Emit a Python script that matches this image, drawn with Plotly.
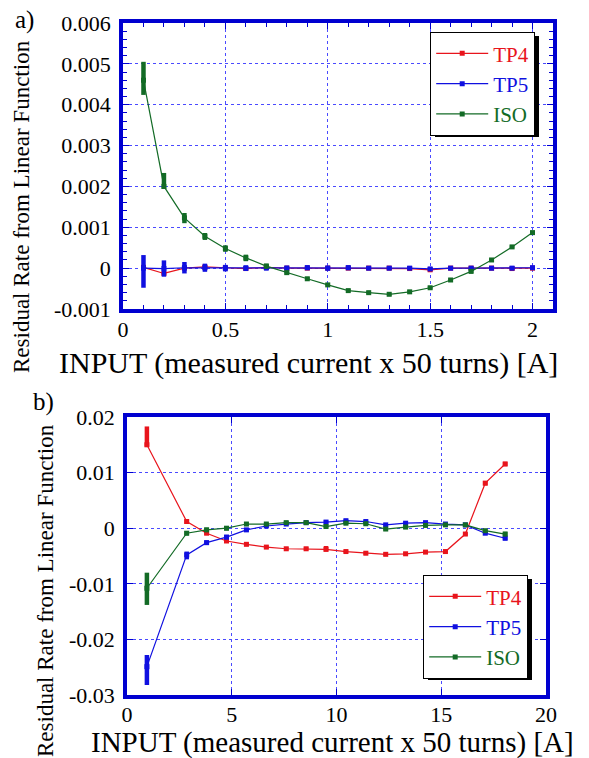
import plotly.graph_objects as go

W, H = 589, 758

# ---------------- data: panel a) ----------------
x_a = [0.1, 0.2, 0.3, 0.4, 0.5, 0.6, 0.7, 0.8, 0.9, 1.0,
       1.1, 1.2, 1.3, 1.4, 1.5, 1.6, 1.7, 1.8, 1.9, 2.0]
tp4_a = [0.00002, -0.00013, 0.00000, 0.00003, 0.00001, -0.00001, 0.00002, 0.00000, 0.00000, 0.00000,
         0.00000, 0.00000, 0.00000, -0.00001, -0.00004, 0.00000, 0.00000, 0.00000, -0.00001, 0.00000]
tp4_a_up = [0.00004] * 20
tp4_a_dn = [0.00004] * 20
tp5_a = [0.00000, -0.00001, 0.00001, 0.00001, 0.00000, 0.00000, 0.00001, 0.00000, 0.00001, 0.00000,
         0.00001, 0.00000, 0.00000, 0.00000, -0.00002, 0.00000, 0.00000, 0.00000, 0.00000, 0.00001]
tp5_a_up = [0.00032, 0.00020, 0.00014, 0.00010, 0.00008, 0.00007, 0.00007, 0.00006, 0.00006, 0.00006,
            0.00006, 0.00005, 0.00005, 0.00005, 0.00005, 0.00005, 0.00005, 0.00005, 0.00005, 0.00005]
tp5_a_dn = [0.00048, 0.00020, 0.00014, 0.00010, 0.00008, 0.00007, 0.00007, 0.00006, 0.00006, 0.00006,
            0.00006, 0.00005, 0.00005, 0.00005, 0.00005, 0.00005, 0.00005, 0.00005, 0.00005, 0.00005]
iso_a = [0.00460, 0.00200, 0.00123, 0.00078, 0.00048, 0.00025, 0.00005, -0.00011, -0.00026, -0.00041,
         -0.00055, -0.00060, -0.00064, -0.00058, -0.00048, -0.00029, -0.00008, 0.00020, 0.00052, 0.00087]
iso_a_up = [0.00045, 0.00033, 0.00012, 0.00008, 0.00008, 0.00008, 0.00006, 0.00005, 0.00004, 0.00004,
            0.00004, 0.00004, 0.00004, 0.00004, 0.00004, 0.00004, 0.00004, 0.00004, 0.00004, 0.00004]
iso_a_dn = [0.00036, 0.00006, 0.00013, 0.00009, 0.00008, 0.00008, 0.00006, 0.00005, 0.00004, 0.00004,
            0.00004, 0.00004, 0.00004, 0.00004, 0.00004, 0.00004, 0.00004, 0.00004, 0.00004, 0.00004]

# ---------------- data: panel b) ----------------
x_b = [0.95, 2.85, 3.8, 4.75, 5.7, 6.65, 7.6, 8.55, 9.5, 10.45,
       11.4, 12.35, 13.3, 14.25, 15.2, 16.15, 17.1, 18.05]
tp4_b = [0.0150, 0.0012, -0.0009, -0.0023, -0.0029, -0.0034, -0.0037, -0.0037, -0.0038, -0.0042,
         -0.0045, -0.0047, -0.0046, -0.0043, -0.0042, -0.00105, 0.0081, 0.01155]
tp4_b_up = [0.0033, 0.0004, 0.0003, 0.0003, 0.0003, 0.0003, 0.0003, 0.0003, 0.0006, 0.0003,
            0.0003, 0.0003, 0.0003, 0.0003, 0.0003, 0.0003, 0.0004, 0.0004]
tp4_b_dn = [0.0003, 0.0004, 0.0003, 0.0003, 0.0003, 0.0003, 0.0003, 0.0003, 0.0004, 0.0003,
            0.0003, 0.0003, 0.0003, 0.0003, 0.0003, 0.0003, 0.0004, 0.0004]
tp5_b = [-0.0249, -0.0048, -0.0026, -0.0016, -0.0003, 0.0004, 0.00075, 0.0010, 0.0011, 0.00135,
         0.0012, 0.0006, 0.0009, 0.0010, 0.00075, 0.0006, -0.0009, -0.0018]
tp5_b_up = [0.0021, 0.0006, 0.0004, 0.0004, 0.0003, 0.0003, 0.0003, 0.0003, 0.0003, 0.0003,
            0.0003, 0.0003, 0.0003, 0.0003, 0.0003, 0.0003, 0.0003, 0.0004]
tp5_b_dn = [0.0033, 0.0008, 0.0004, 0.0004, 0.0003, 0.0003, 0.0003, 0.0003, 0.0003, 0.0003,
            0.0003, 0.0003, 0.0003, 0.0003, 0.0003, 0.0003, 0.0003, 0.0004]
iso_b = [-0.0108, -0.0009, -0.0003, 0.0000, 0.00075, 0.00075, 0.0010, 0.0010, 0.0003, 0.0009,
         0.0008, -0.00015, 0.0002, 0.0005, 0.0006, 0.0006, -0.00045, -0.00105]
iso_b_up = [0.0028, 0.0004, 0.0004, 0.0004, 0.0003, 0.0003, 0.0003, 0.0003, 0.0004, 0.0003,
            0.0003, 0.0003, 0.0003, 0.0003, 0.0003, 0.0003, 0.0003, 0.0004]
iso_b_dn = [0.0030, 0.0004, 0.0004, 0.0004, 0.0003, 0.0003, 0.0003, 0.0003, 0.0003, 0.0003,
            0.0003, 0.0003, 0.0003, 0.0003, 0.0003, 0.0003, 0.0003, 0.0004]

names = ["TP4", "TP5", "ISO"]
colors = ["#e8141c", "#1010e0", "#136b26"]

FONT = "Liberation Serif"
FRAME = "#0000d0"
GRID = "#4a4aff"


def px_x(p):
    return p / W


def px_y(p):
    return 1 - p / H


fig = go.Figure()

series_a = [(tp4_a, tp4_a_up, tp4_a_dn), (tp5_a, tp5_a_up, tp5_a_dn), (iso_a, iso_a_up, iso_a_dn)]
series_b = [(tp4_b, tp4_b_up, tp4_b_dn), (tp5_b, tp5_b_up, tp5_b_dn), (iso_b, iso_b_up, iso_b_dn)]

for (y, up, dn), nm, c in zip(series_a, names, colors):
    fig.add_trace(go.Scatter(
        x=x_a, y=y, mode="lines+markers", xaxis="x", yaxis="y",
        name=f"<span style='color:{c}'>{nm}</span>", legend="legend",
        line=dict(color=c, width=1.2), marker=dict(color=c, size=5, symbol="square"),
        error_y=dict(type="data", symmetric=False, array=up, arrayminus=dn,
                     color=c, thickness=4.5, width=0),
    ))

for (y, up, dn), nm, c in zip(series_b, names, colors):
    fig.add_trace(go.Scatter(
        x=x_b, y=y, mode="lines+markers", xaxis="x2", yaxis="y2",
        name=f"<span style='color:{c}'>{nm}</span>", legend="legend2",
        line=dict(color=c, width=1.2), marker=dict(color=c, size=5, symbol="square"),
        error_y=dict(type="data", symmetric=False, array=up, arrayminus=dn,
                     color=c, thickness=4.5, width=0),
    ))

axis_common = dict(
    showline=True, linewidth=3.5, linecolor=FRAME, mirror="allticks",
    ticks="inside", tickcolor=FRAME, tickwidth=1, ticklen=6,
    showgrid=True, gridcolor=GRID, griddash="dot", gridwidth=1,
    zeroline=False, automargin=False,
    tickfont=dict(family=FONT, size=22, color="black"),
)

# panel a domain (pixel): x 123..553, y 23..309
fig.update_layout(
    xaxis=dict(domain=[px_x(123), px_x(553)], range=[0, 2.1], tickvals=[0, 0.5, 1, 1.5, 2],
               ticktext=["0", "0.5", "1", "1.5", "2"], anchor="y",
               minor=dict(dtick=0.1, ticks="inside", ticklen=4, tickcolor=FRAME, showgrid=False),
               ticklabelstandoff=-2, **axis_common),
    yaxis=dict(domain=[px_y(309), px_y(23)], range=[-0.001, 0.006],
               tickvals=[-0.001, 0, 0.001, 0.002, 0.003, 0.004, 0.005, 0.006],
               ticktext=["-0.001", "0", "0.001", "0.002", "0.003", "0.004", "0.005", "0.006"],
               anchor="x",
               minor=dict(dtick=0.0002, ticks="inside", ticklen=4, tickcolor=FRAME, showgrid=False),
               ticklabelstandoff=4, **axis_common),
    xaxis2=dict(domain=[px_x(127), px_x(546)], range=[0, 20], tickvals=[0, 5, 10, 15, 20],
                anchor="y2", ticklabelstandoff=-3, **axis_common),
    yaxis2=dict(domain=[px_y(695), px_y(417)], range=[-0.03, 0.02],
                tickvals=[-0.03, -0.02, -0.01, 0, 0.01, 0.02],
                ticktext=["-0.03", "-0.02", "-0.01", "0", "0.01", "0.02"],
                anchor="x2", ticklabelstandoff=4, **axis_common),
)

legend_common = dict(
    bgcolor="white", bordercolor="black", borderwidth=1.2,
    font=dict(family=FONT, size=21, color="black"),
    xanchor="right", yanchor="top", tracegroupgap=0, itemwidth=52,
)

LEG_A = (535, 32)   # top-right corner of legend, px
LEG_B = (528, 575)
fig.update_layout(
    width=W, height=H, margin=dict(l=0, r=0, t=0, b=0),
    paper_bgcolor="white", plot_bgcolor="white", showlegend=True,
    legend=dict(x=px_x(LEG_A[0]), y=px_y(LEG_A[1]), **legend_common),
    legend2=dict(x=px_x(LEG_B[0]), y=px_y(LEG_B[1]), **legend_common),
)

# legend drop shadows (drawn under the legend boxes)
shadow, lw, lh = 4, 104, 101
for (rx, ty) in [LEG_A, LEG_B]:
    fig.add_shape(type="rect", xref="paper", yref="paper",
                  x0=px_x(rx - lw + shadow), x1=px_x(rx + shadow),
                  y0=px_y(ty + lh + shadow), y1=px_y(ty + shadow),
                  fillcolor="black", line=dict(width=0), layer="above")

ann_font = dict(family=FONT, color="black")
annotations = [
    dict(text="a)", x=px_x(24), y=px_y(20), font=dict(size=25, **ann_font)),
    dict(text="b)", x=px_x(43), y=px_y(402), font=dict(size=25, **ann_font)),
    dict(text="INPUT (measured current x 50 turns) [A]", x=px_x(308), y=px_y(363),
         font=dict(size=30, **ann_font)),
    dict(text="INPUT (measured current x 50 turns) [A]", x=px_x(332), y=px_y(742),
         font=dict(size=29, **ann_font)),
    dict(text="Residual Rate from Linear Function", x=px_x(21), y=px_y(207), textangle=-90,
         font=dict(size=23, **ann_font)),
    dict(text="Residual Rate from Linear Function", x=px_x(45), y=px_y(591), textangle=-90,
         font=dict(size=23, **ann_font)),
]
for a in annotations:
    fig.add_annotation(xref="paper", yref="paper", showarrow=False,
                       xanchor="center", yanchor="middle", **a)

fig.write_html("out.html")
